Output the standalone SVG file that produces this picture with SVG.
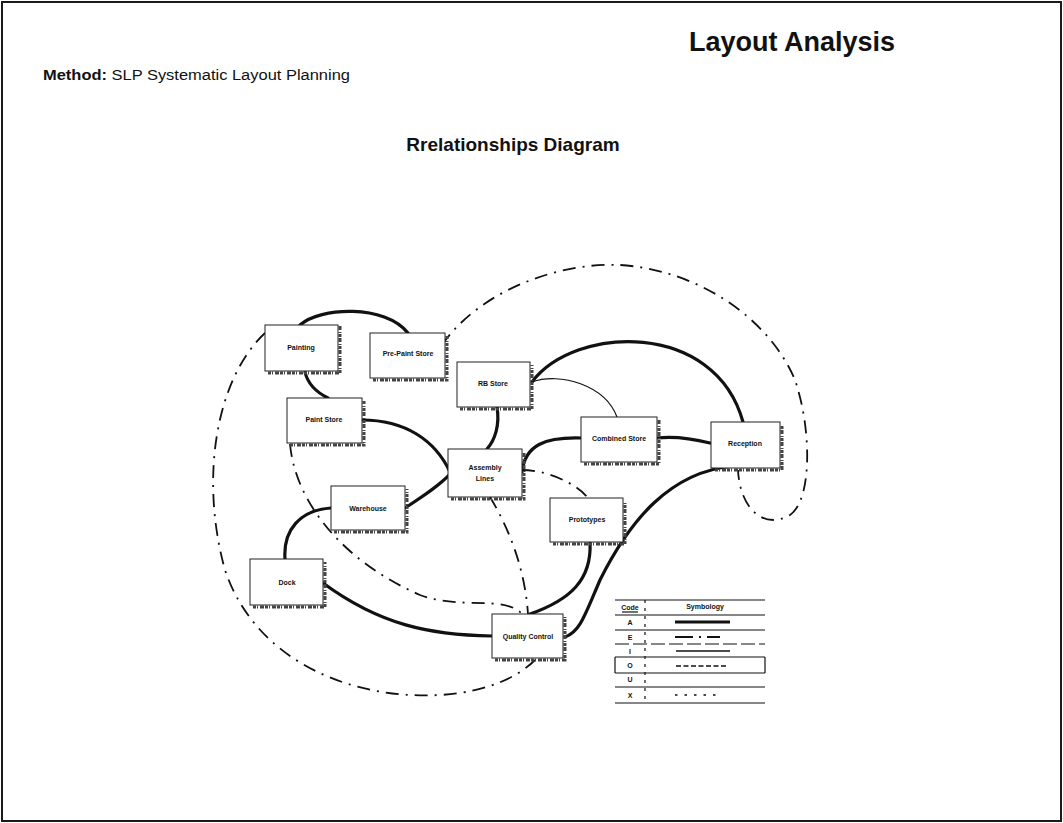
<svg xmlns="http://www.w3.org/2000/svg" width="1063" height="823" viewBox="0 0 1063 823">
  <style>
    .frame { fill: #ffffff; stroke: #1a1a1a; stroke-width: 2; }
    .title { font-family: "Liberation Sans", Arial, sans-serif; font-weight: bold; fill: #111; }
    .plain { font-family: "Liberation Sans", Arial, sans-serif; fill: #111; }
    .box { fill: #ffffff; stroke: #222; stroke-width: 1; }
    .shade { fill: none; stroke: #444; stroke-width: 3; stroke-dasharray: 3 1 1 2 4 1; }
    .lbl { font-family: "Liberation Sans", Arial, sans-serif; font-weight: bold; font-size: 7px; fill: #111; text-anchor: middle; }
    .a { fill: none; stroke: #111; stroke-width: 3.2; stroke-linecap: round; }
    .i { fill: none; stroke: #111; stroke-width: 1.2; }
    .e { fill: none; stroke: #111; stroke-width: 1.8; stroke-dasharray: 13 7 2 7; }
    .lg { stroke: #111; stroke-width: 1.2; }
    .lgt { font-family: "Liberation Sans", Arial, sans-serif; font-weight: bold; font-size: 7px; fill: #111; text-anchor: middle; }
  </style>

  <!-- page frame -->
  <rect class="frame" x="2" y="2" width="1059" height="819"/>

  <!-- headings -->
  <text class="title" x="895" y="51" font-size="27" text-anchor="end">Layout Analysis</text>
  <text class="plain" x="43" y="80" font-size="14" textLength="307" lengthAdjust="spacingAndGlyphs"><tspan font-weight="bold">Method:</tspan>  SLP Systematic Layout Planning</text>
  <text class="title" x="513" y="151" font-size="19" text-anchor="middle">Rrelationships Diagram</text>

  <!-- connectors -->
  <g id="connectors">
    <!-- A: absolutely necessary -->
    <path class="a" d="M 300 325 C 320 307, 385 304, 408 333"/>
    <path class="a" d="M 305 372 C 308 385, 318 393, 328 398"/>
    <path class="a" d="M 362 420 C 405 420, 435 440, 450 472"/>
    <path class="a" d="M 405 508 C 425 495, 440 485, 450 474"/>
    <path class="a" d="M 331 508 C 300 510, 283 530, 285 559"/>
    <path class="a" d="M 497 407 C 500 425, 495 440, 487 449"/>
    <path class="a" d="M 532 382 C 575 325, 715 320, 743 422"/>
    <path class="a" d="M 522 472 C 525 445, 545 437, 581 438"/>
    <path class="a" d="M 657 438 C 675 436, 690 438, 710 443"/>
    <path class="a" d="M 733 466 C 670 472, 630 520, 600 580 C 585 615, 580 632, 565 637"/>
    <path class="a" d="M 590 542 C 592 580, 570 600, 530 614"/>
    <path class="a" d="M 323 583 C 380 625, 430 635, 492 636"/>
    <!-- I: important -->
    <path class="i" d="M 532 382 C 560 372, 605 385, 617 417"/>
    <!-- E: especially important -->
    <path class="e" d="M 442 345 C 480 290, 560 262, 620 265 C 700 270, 770 320, 795 380 C 812 430, 812 500, 790 515 C 765 530, 740 510, 738 470"/>
    <path class="e" d="M 265 333 C 215 380, 200 480, 225 570 C 255 660, 350 700, 440 695 C 490 692, 520 675, 535 660"/>
    <path class="e" d="M 290 444 C 295 500, 340 560, 420 595 C 460 610, 505 595, 522 614"/>
    <path class="e" d="M 490 497 C 510 530, 525 570, 528 614"/>
    <path class="e" d="M 522 470 C 545 470, 575 482, 588 498"/>
  </g>

  <!-- departments -->
  <g id="painting">
    <path class="shade" d="M 268 373 H 340 V 326"/>
    <rect class="box" x="265" y="325" width="73" height="46"/>
    <text class="lbl" x="301" y="350">Painting</text>
  </g>
  <g id="pre-paint-store">
    <path class="shade" d="M 373 380 H 447 V 336"/>
    <rect class="box" x="370" y="333" width="75" height="45"/>
    <text class="lbl" x="408" y="356">Pre-Paint Store</text>
  </g>
  <g id="rb-store">
    <path class="shade" d="M 460 409 H 532 V 365"/>
    <rect class="box" x="457" y="362" width="73" height="45"/>
    <text class="lbl" x="493" y="386">RB Store</text>
  </g>
  <g id="paint-store">
    <path class="shade" d="M 290 445 H 364 V 401"/>
    <rect class="box" x="287" y="398" width="75" height="45"/>
    <text class="lbl" x="324" y="422">Paint Store</text>
  </g>
  <g id="assembly-lines">
    <path class="shade" d="M 451 499 H 524 V 452"/>
    <rect class="box" x="448" y="449" width="74" height="48"/>
    <text class="lbl" x="485" y="470">Assembly</text>
    <text class="lbl" x="485" y="481">Lines</text>
  </g>
  <g id="combined-store">
    <path class="shade" d="M 584 464 H 659 V 420"/>
    <rect class="box" x="581" y="417" width="76" height="45"/>
    <text class="lbl" x="619" y="441">Combined Store</text>
  </g>
  <g id="reception">
    <path class="shade" d="M 715 470 H 782 V 425"/>
    <rect class="box" x="711" y="422" width="69" height="46"/>
    <text class="lbl" x="745" y="446">Reception</text>
  </g>
  <g id="warehouse">
    <path class="shade" d="M 334 532 H 407 V 489"/>
    <rect class="box" x="331" y="486" width="74" height="44"/>
    <text class="lbl" x="368" y="511">Warehouse</text>
  </g>
  <g id="prototypes">
    <path class="shade" d="M 553 544 H 625 V 501"/>
    <rect class="box" x="550" y="498" width="73" height="44"/>
    <text class="lbl" x="587" y="522">Prototypes</text>
  </g>
  <g id="dock">
    <path class="shade" d="M 253 607 H 325 V 562"/>
    <rect class="box" x="250" y="559" width="73" height="46"/>
    <text class="lbl" x="287" y="585">Dock</text>
  </g>
  <g id="quality-control">
    <path class="shade" d="M 495 660 H 565 V 617"/>
    <rect class="box" x="492" y="614" width="71" height="44"/>
    <text class="lbl" x="528" y="639">Quality Control</text>
  </g>

  <!-- closeness code key -->
  <g id="legend">
    <line class="lg" x1="615" y1="600" x2="765" y2="600"/>
    <line class="lg" x1="615" y1="615" x2="765" y2="615"/>
    <line class="lg" x1="615" y1="630" x2="765" y2="630"/>
    <line class="lg" x1="615" y1="644" x2="765" y2="644" stroke-dasharray="14 4"/>
    <line class="lg" x1="615" y1="657" x2="765" y2="657"/>
    <line class="lg" x1="615" y1="673" x2="765" y2="673"/>
    <line class="lg" x1="615" y1="687" x2="765" y2="687"/>
    <line class="lg" x1="615" y1="703" x2="765" y2="703"/>
    <line class="lg" x1="615" y1="657" x2="615" y2="673"/>
    <line class="lg" x1="765" y1="657" x2="765" y2="673"/>
    <line class="lg" x1="645" y1="600" x2="645" y2="703" stroke-dasharray="3 5"/>
    <text class="lgt" x="630" y="610">Code</text>
    <line class="lg" x1="622" y1="612" x2="638" y2="612" stroke-width="0.8"/>
    <text class="lgt" x="705" y="609">Symbology</text>
    <text class="lgt" x="630" y="625">A</text>
    <text class="lgt" x="630" y="640">E</text>
    <text class="lgt" x="630" y="654">I</text>
    <text class="lgt" x="630" y="668">O</text>
    <text class="lgt" x="630" y="682">U</text>
    <text class="lgt" x="630" y="698">X</text>
    <line x1="675" y1="622" x2="730" y2="622" stroke="#111" stroke-width="3"/>
    <line x1="675" y1="637" x2="720" y2="637" stroke="#111" stroke-width="1.8" stroke-dasharray="18 6 2 6"/>
    <line x1="676" y1="651" x2="730" y2="651" stroke="#111" stroke-width="1.4"/>
    <line x1="676" y1="666" x2="728" y2="666" stroke="#111" stroke-width="1.5" stroke-dasharray="5 2.5"/>
    <line x1="675" y1="695" x2="722" y2="695" stroke="#111" stroke-width="1.6" stroke-dasharray="2.5 7"/>
  </g>
</svg>
